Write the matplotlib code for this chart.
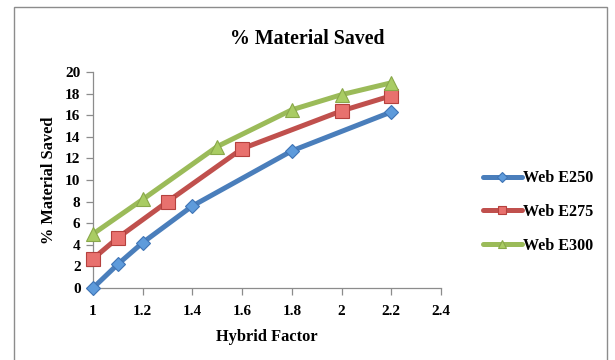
import matplotlib
matplotlib.use("Agg")
import matplotlib.pyplot as plt
from matplotlib.patches import Rectangle

plt.rcParams['font.family'] = ['Liberation Serif', 'DejaVu Serif']
plt.rcParams['font.weight'] = 'bold'

title = "% Material Saved"
x_label = "Hybrid Factor"
y_label = "% Material Saved"

x_e250 = [1.0, 1.1, 1.2, 1.4, 1.8, 2.2]
y_e250 = [0.0, 2.2, 4.2, 7.6, 12.7, 16.3]

x_e275 = [1.0, 1.1, 1.3, 1.6, 2.0, 2.2]
y_e275 = [2.7, 4.65, 8.0, 12.9, 16.4, 17.8]

x_e300 = [1.0, 1.2, 1.5, 1.8, 2.0, 2.2]
y_e300 = [5.0, 8.2, 13.1, 16.5, 17.9, 19.0]

x_ticks = [1, 1.2, 1.4, 1.6, 1.8, 2, 2.2, 2.4]
x_tick_labels = ["1", "1.2", "1.4", "1.6", "1.8", "2", "2.2", "2.4"]
y_ticks = [0, 2, 4, 6, 8, 10, 12, 14, 16, 18, 20]

series = [
    ("Web E250", x_e250, y_e250, "#4A7EBB", "D", "#5E9BDB", "#3F74B5", 7.5),
    ("Web E275", x_e275, y_e275, "#C0504D", "s", "#E8716E", "#B5413E", 9.5),
    ("Web E300", x_e300, y_e300, "#9BBB59", "^", "#A9CC63", "#89A84A", 9.5),
]

fig = plt.figure(figsize=(6.15, 3.6), dpi=100)
fig.patch.set_facecolor("white")

# outer chart frame
fig.patches.append(Rectangle((14 / 615, -0.05), (607 - 14) / 615, 1.05 - 7 / 360,
                             transform=fig.transFigure, fill=False,
                             edgecolor="#8C8C8C", linewidth=1.0))

ax = fig.add_axes([93 / 615, 1 - 288 / 360, (441 - 93) / 615, (288 - 72) / 360])

for name, xs, ys, color, marker, mfc, mec, ms in series:
    ax.plot(xs, ys, color=color, linewidth=3.6, marker=marker, markersize=ms,
            markerfacecolor=mfc, markeredgecolor=mec, markeredgewidth=0.8,
            label=name, solid_capstyle="round", solid_joinstyle="round",
            clip_on=False, zorder=3)

ax.set_xlim(1, 2.4)
ax.set_ylim(0, 20)
ax.set_xticks(x_ticks)
ax.set_xticklabels(x_tick_labels)
ax.set_yticks(y_ticks)

for side in ("top", "right"):
    ax.spines[side].set_visible(False)
for side in ("left", "bottom"):
    ax.spines[side].set_color("#8C8C8C")
    ax.spines[side].set_linewidth(0.9)

ax.tick_params(axis="both", direction="out", length=5, width=0.9,
               color="#8C8C8C", labelsize=11, pad=4)
ax.tick_params(axis="x", pad=7)
for lab in ax.get_xticklabels() + ax.get_yticklabels():
    lab.set_fontweight("bold")

ax.set_xlabel(x_label, fontsize=11.8, fontweight="bold", labelpad=8)
ax.set_ylabel(y_label, fontsize=11.8, fontweight="bold", labelpad=6)
fig.text(0.5, 1 - 39 / 360, title, ha="center", va="center",
         fontsize=14.3, fontweight="bold")

leg = ax.legend(loc="center left", bbox_to_anchor=(1.102, 0.352), frameon=False,
                fontsize=11.6, handlelength=2.4, handletextpad=0.1,
                labelspacing=1.1, borderaxespad=0)
for t in leg.get_texts():
    t.set_fontweight("bold")
for h in leg.legend_handles:
    h.set_markersize(5.5)

fig.savefig("out.png", dpi=100)
